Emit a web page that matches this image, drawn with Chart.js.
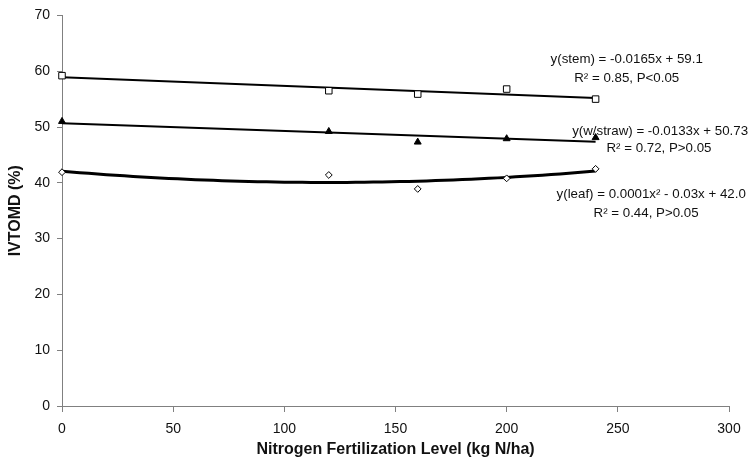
<!DOCTYPE html>
<html>
<head>
<meta charset="utf-8">
<script src="https://cdn.jsdelivr.net/npm/chart.js@4.4.0/dist/chart.umd.min.js"></script>
<style>
  html, body { margin: 0; padding: 0; background: #fff; }
  #wrap { width: 751px; height: 464px; }
</style>
</head>
<body>
<div id="wrap"><canvas id="c" width="751" height="464"></canvas></div>
<script>
// ---- data ----
const nLevels = [0, 120, 160, 200, 240];
const stemValues = [59.2, 56.5, 55.9, 56.8, 55.0];
const strawValues = [51.0, 49.2, 47.3, 47.9, 48.1];
const leafValues = [41.9, 41.4, 38.9, 40.8, 42.5];
const xTicks = [0, 50, 100, 150, 200, 250, 300];
const yTicks = [0, 10, 20, 30, 40, 50, 60, 70];
const stemLabel = ['y(stem) = -0.0165x + 59.1', 'R² = 0.85, P<0.05'];
const strawLabel = ['y(w/straw) = -0.0133x + 50.73', 'R² = 0.72, P>0.05'];
const leafLabel = ['y(leaf) = 0.0001x² - 0.03x + 42.0', 'R² = 0.44, P>0.05'];

// ---- least-squares trend lines fitted to the data ----
function polyFit(xs, ys, deg) {
  const n = deg + 1;
  const A = [];
  for (let i = 0; i < n; i++) {
    A.push([]);
    for (let j = 0; j < n; j++) {
      let s = 0; xs.forEach(x => { s += Math.pow(x, i + j); });
      A[i].push(s);
    }
    let r = 0; xs.forEach((x, k) => { r += Math.pow(x, i) * ys[k]; });
    A[i].push(r);
  }
  for (let i = 0; i < n; i++) {
    let p = i;
    for (let k = i + 1; k < n; k++) if (Math.abs(A[k][i]) > Math.abs(A[p][i])) p = k;
    [A[i], A[p]] = [A[p], A[i]];
    for (let k = 0; k < n; k++) {
      if (k === i) continue;
      const f = A[k][i] / A[i][i];
      for (let j = i; j <= n; j++) A[k][j] -= f * A[i][j];
    }
  }
  return A.map((row, i) => row[n] / row[i]);
}
function trendPoints(xs, ys, deg) {
  const c = polyFit(xs, ys, deg);
  const lo = Math.min(...xs), hi = Math.max(...xs);
  const steps = deg === 1 ? 1 : 60;
  const pts = [];
  for (let i = 0; i <= steps; i++) {
    const x = lo + (hi - lo) * i / steps;
    let y = 0; c.forEach((ci, p) => { y += ci * Math.pow(x, p); });
    pts.push({ x, y });
  }
  return pts;
}
const toPts = (xs, ys) => xs.map((x, i) => ({ x, y: ys[i] }));

const FONT = '"Liberation Sans", Arial, sans-serif';

const annotPlugin = {
  id: 'annot',
  afterDraw(chart) {
    const ctx = chart.ctx;
    const xs = chart.scales.x, ys = chart.scales.y;
    ctx.save();
    ctx.font = '13.3px ' + FONT;
    ctx.fillStyle = '#111';
    ctx.textAlign = 'center';
    ctx.textBaseline = 'middle';
    const put = (lines, cx, cy1, cy2) => {
      ctx.fillText(lines[0], xs.getPixelForValue(cx[0]), ys.getPixelForValue(cy1));
      ctx.fillText(lines[1], xs.getPixelForValue(cx[1]), ys.getPixelForValue(cy2));
    };
    put(stemLabel, [254, 254], 62.2, 58.8);
    put(strawLabel, [269, 268.5], 49.3, 46.1);
    put(leafLabel, [265, 262.7], 38.0, 34.6);
    ctx.restore();
  }
};

new Chart(document.getElementById('c'), {
  type: 'scatter',
  data: {
    datasets: [
      { data: toPts(nLevels, stemValues), pointStyle: 'rect', pointRadius: 4.6,
        pointBackgroundColor: '#fff', pointBorderColor: '#000', pointBorderWidth: 1, showLine: false, order: 0, clip: false },
      { data: toPts(nLevels, strawValues), pointStyle: 'triangle', pointRadius: 4,
        pointBackgroundColor: '#000', pointBorderColor: '#000', pointBorderWidth: 1, showLine: false, order: 0, clip: false },
      { data: toPts(nLevels, leafValues), pointStyle: 'rectRot', pointRadius: 3.4,
        pointBackgroundColor: '#fff', pointBorderColor: '#000', pointBorderWidth: 1, showLine: false, order: 0, clip: false },
      { data: trendPoints(nLevels, stemValues, 1), showLine: true, pointRadius: 0,
        borderColor: '#000', borderWidth: 2, tension: 0, order: 1, clip: false },
      { data: trendPoints(nLevels, strawValues, 1), showLine: true, pointRadius: 0,
        borderColor: '#000', borderWidth: 2, tension: 0, order: 1, clip: false },
      { data: trendPoints(nLevels, leafValues, 2), showLine: true, pointRadius: 0,
        borderColor: '#000', borderWidth: 3, tension: 0, order: 1, clip: false }
    ]
  },
  options: {
    responsive: false,
    animation: false,
    devicePixelRatio: 1,
    layout: { padding: { top: 15, right: 22, bottom: 0, left: 6 } },
    plugins: { legend: { display: false }, tooltip: { enabled: false } },
    scales: {
      x: {
        type: 'linear', min: 0, max: 300,
        afterBuildTicks: s => { s.ticks = xTicks.map(v => ({ value: v })); },
        afterFit: s => { s.height = 58; },
        grid: { display: true, drawOnChartArea: false, drawTicks: true, tickLength: 6, color: '#808080', lineWidth: 1 },
        border: { display: true, color: '#808080', width: 1 },
        ticks: { color: '#111', font: { family: FONT, size: 14 }, padding: 9, maxRotation: 0 },
        title: { display: true, text: 'Nitrogen Fertilization Level (kg N/ha)', color: '#111',
                 font: { family: FONT, size: 16, weight: 'bold' }, padding: { top: 4, bottom: 5 } }
      },
      y: {
        type: 'linear', min: 0, max: 70,
        afterBuildTicks: s => { s.ticks = yTicks.map(v => ({ value: v })); },
        afterFit: s => { s.width = 56; },
        grid: { display: true, drawOnChartArea: false, drawTicks: true, tickLength: 5, color: '#808080', lineWidth: 1 },
        border: { display: true, color: '#808080', width: 1 },
        ticks: { color: '#111', font: { family: FONT, size: 14 }, padding: 7 },
        title: { display: true, text: 'IVTOMD (%)', color: '#111',
                 font: { family: FONT, size: 16, weight: 'bold' }, padding: { top: 0, bottom: 4 } }
      }
    }
  },
  plugins: [annotPlugin]
});
</script>
</body>
</html>
